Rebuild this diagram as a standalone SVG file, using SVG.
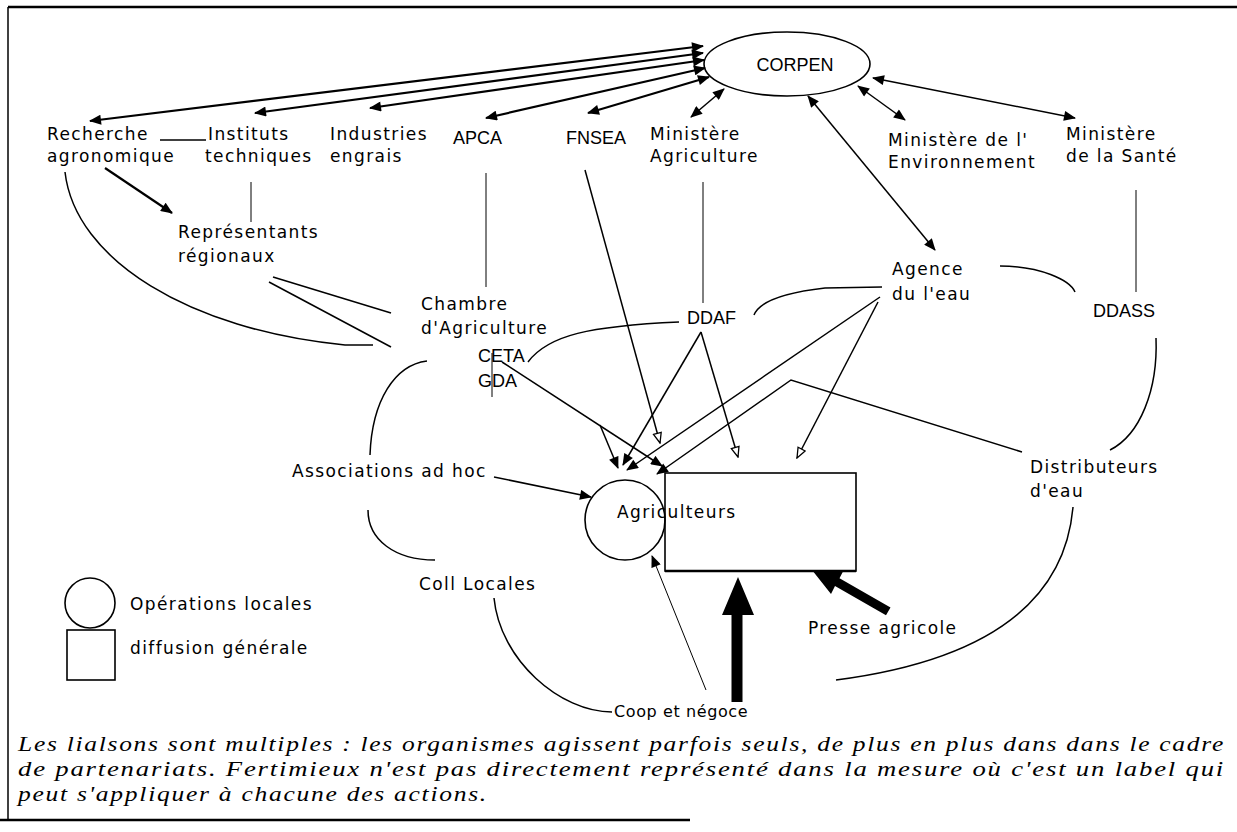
<svg xmlns="http://www.w3.org/2000/svg" width="1237" height="832" viewBox="0 0 1237 832">
<style>
.t{font-family:"DejaVu Sans",sans-serif;font-size:17px;letter-spacing:1.4px;fill:#000}
.c{font-family:"Liberation Sans",Arial,sans-serif;font-size:18px;fill:#000}
.cap{font-family:"Liberation Serif","Times New Roman",serif;font-style:italic;font-size:22px;letter-spacing:1.5px;fill:#000}
.l{stroke:#000;stroke-width:1.5;fill:none}
.lt{stroke:#000;stroke-width:1;fill:none}
.lb{stroke:#000;stroke-width:2.2;fill:none}
.shape{stroke:#000;stroke-width:1.6;fill:none}
</style>
<defs>
<marker id="ah" viewBox="0 0 12 10" refX="11" refY="5" markerWidth="13" markerHeight="10" markerUnits="userSpaceOnUse" orient="auto-start-reverse"><path d="M0,0 L12,5 L0,10 z" fill="#000"/></marker>
<marker id="ao" viewBox="0 0 12 10" refX="11" refY="5" markerWidth="12" markerHeight="10" markerUnits="userSpaceOnUse" orient="auto"><path d="M1,1 L11,5 L1,9 z" fill="#fff" stroke="#000" stroke-width="1.3"/></marker>
</defs>
<rect width="1237" height="832" fill="#fff"/>
<g id="frame">
<path d="M8,7 L1237,7" stroke="#000" stroke-width="2.5"/>
<path d="M8,7 L8,820" stroke="#000" stroke-width="1.5"/>
<path d="M0,820 L690,820" stroke="#000" stroke-width="2.5"/>
</g>
<g id="connectors">
<path class="lb" d="M90,121 L703,46" marker-start="url(#ah)" marker-end="url(#ah)"/>
<path class="lb" d="M255,113 L703,53" marker-start="url(#ah)" marker-end="url(#ah)"/>
<path class="lb" d="M370,108 L704,60" marker-start="url(#ah)" marker-end="url(#ah)"/>
<path class="lb" d="M486,118 L705,68" marker-start="url(#ah)" marker-end="url(#ah)"/>
<path class="lb" d="M588,113 L709,77" marker-start="url(#ah)" marker-end="url(#ah)"/>
<path class="l" d="M691,117 L724,89" marker-start="url(#ah)" marker-end="url(#ah)"/>
<path class="l" d="M808,96 L935,250" marker-start="url(#ah)" marker-end="url(#ah)"/>
<path class="l" d="M858,86 L905,120" marker-start="url(#ah)" marker-end="url(#ah)"/>
<path class="l" d="M873,78 L1075,118" marker-start="url(#ah)" marker-end="url(#ah)"/>
<path class="l" d="M160,140 L206,140"/>
<path class="lb" d="M105,168 L172,213" marker-end="url(#ah)"/>
<path class="l" d="M65,172 C75,260 190,330 345,345 L373,345"/>
<path class="lt" d="M251,182 L251,222"/>
<path class="l" d="M273,277 L391,313"/>
<path class="l" d="M269,282 L391,347"/>
<path class="lt" d="M486,173 L486,287"/>
<path class="l" d="M585,170 L660,443" marker-end="url(#ao)"/>
<path class="lt" d="M703,182 L703,303"/>
<path class="lt" d="M1136,190 L1136,292"/>
<path class="lt" d="M492,353 L492,397"/>
<path class="l" d="M528,362 C548,335 590,326 679,322"/>
<path class="l" d="M502,362 L662,466" marker-end="url(#ah)"/>
<path class="l" d="M600,425 L618,468" marker-end="url(#ah)"/>
<path class="l" d="M427,361 C395,365 372,400 370,455"/>
<path class="l" d="M368,510 C368,540 395,560 435,560"/>
<path class="l" d="M494,477 L591,497" marker-end="url(#ah)"/>
<path class="l" d="M701,332 L623,465" marker-end="url(#ah)"/>
<path class="l" d="M701,332 L738,457" marker-end="url(#ao)"/>
<path class="l" d="M880,297 L627,470" marker-end="url(#ah)"/>
<path class="l" d="M878,302 L797,458" marker-end="url(#ao)"/>
<path class="l" d="M1022,452 L791,380 L657,474" marker-end="url(#ah)"/>
<path class="l" d="M882,287 L825,288 C790,292 760,300 754,315"/>
<path class="l" d="M1000,266 C1040,266 1070,280 1075,292"/>
<path class="l" d="M1156,338 C1158,390 1140,435 1110,450"/>
<path class="l" d="M1073,507 C1065,600 990,660 836,680"/>
<path class="l" d="M494,598 C500,660 560,712 612,712"/>
<path class="lt" d="M706,690 L652,556" marker-end="url(#ah)"/>
<polygon points="738,577 754,615 742.5,615 742.5,702 731.5,702 731.5,615 722,615" fill="#000"/>
<polygon points="812,570 843.5,570.5 839.5,578.3 890.5,607.4 886,615.2 835,586.1 831,593.9" fill="#000"/>
</g>
<g id="corpen"><ellipse class="shape" cx="787" cy="64" rx="83" ry="32"/><text class="c" x="795" y="71" text-anchor="middle">CORPEN</text></g>
<g id="recherche"><text class="t" x="47" y="140">Recherche</text><text class="t" x="47" y="162">agronomique</text></g>
<g id="instituts"><text class="t" x="208" y="140">Instituts</text><text class="t" x="205" y="162">techniques</text></g>
<g id="industries"><text class="t" x="330" y="140">Industries</text><text class="t" x="330" y="162">engrais</text></g>
<g id="apca"><text class="c" x="453" y="144">APCA</text></g>
<g id="fnsea"><text class="c" x="566" y="144">FNSEA</text></g>
<g id="min-agri"><text class="t" x="650" y="140">Ministère</text><text class="t" x="650" y="162">Agriculture</text></g>
<g id="min-env"><text class="t" x="888" y="146">Ministère de l'</text><text class="t" x="888" y="168">Environnement</text></g>
<g id="min-sante"><text class="t" x="1066" y="140">Ministère</text><text class="t" x="1066" y="162">de la Santé</text></g>
<g id="representants"><text class="t" x="178" y="238">Représentants</text><text class="t" x="178" y="262">régionaux</text></g>
<g id="chambre"><text class="t" x="421" y="310">Chambre</text><text class="t" x="421" y="334">d'Agriculture</text></g>
<g id="ceta"><text class="c" x="478" y="362">CETA</text><text class="c" x="478" y="387">GDA</text></g>
<g id="ddaf"><text class="c" x="687" y="324">DDAF</text></g>
<g id="agence"><text class="t" x="892" y="275">Agence</text><text class="t" x="892" y="300">du l'eau</text></g>
<g id="ddass"><text class="c" x="1093" y="317">DDASS</text></g>
<g id="associations"><text class="t" x="292" y="477">Associations ad hoc</text></g>
<g id="agriculteurs"><circle class="shape" cx="625" cy="520" r="40"/><rect class="shape" x="665" y="473" width="191" height="98"/><path d="M665,571 L856,571" stroke="#000" stroke-width="2.5"/><text class="t" x="617" y="518">Agriculteurs</text></g>
<g id="distributeurs"><text class="t" x="1030" y="473">Distributeurs</text><text class="t" x="1030" y="497">d'eau</text></g>
<g id="coll"><text class="t" x="419" y="590">Coll Locales</text></g>
<g id="presse"><text class="t" x="808" y="634">Presse agricole</text></g>
<g id="coop"><text class="t" x="614" y="717" style="font-size:16px;letter-spacing:0.6px">Coop et négoce</text></g>
<g id="legend"><circle class="shape" cx="90" cy="603" r="25"/><text class="t" x="130" y="610">Opérations locales</text><rect class="shape" x="67" y="630" width="48" height="50"/><text class="t" x="130" y="654">diffusion générale</text></g>
<g id="caption">
<text class="cap" x="18" y="751" textLength="1207" lengthAdjust="spacingAndGlyphs">Les lialsons sont multiples : les organismes agissent parfois seuls, de plus en plus dans dans le cadre</text>
<text class="cap" x="18" y="776" textLength="1207" lengthAdjust="spacingAndGlyphs">de partenariats. Fertimieux n'est pas directement représenté dans la mesure où c'est un label qui</text>
<text class="cap" x="18" y="801" textLength="470" lengthAdjust="spacingAndGlyphs">peut s'appliquer à chacune des actions.</text>
</g>
</svg>
